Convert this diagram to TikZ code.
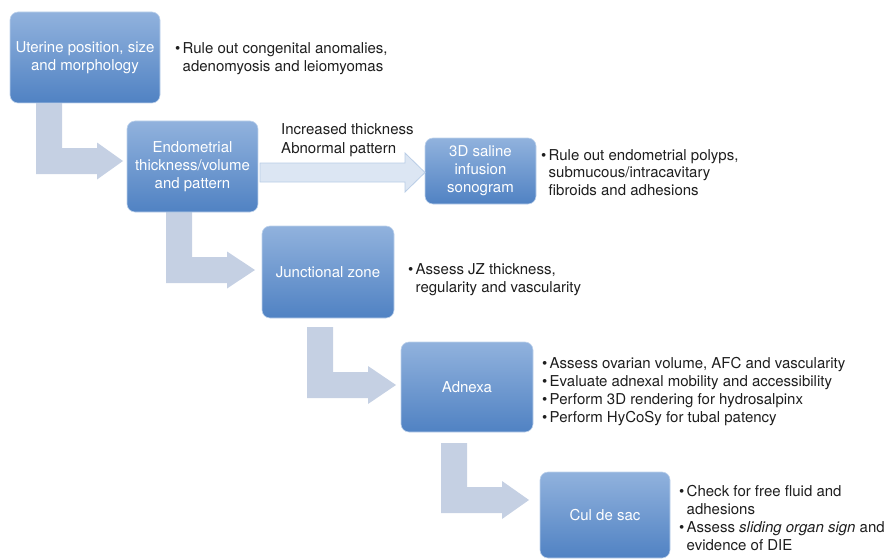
\documentclass[tikz,border=0pt]{standalone}
\usepackage{fontspec}
\setmainfont{TeX Gyre Heros}
\definecolor{boxtop}{RGB}{145,178,221}
\definecolor{boxbot}{RGB}{80,130,195}
\definecolor{boxedge}{RGB}{190,210,235}
\definecolor{bentfill}{RGB}{197,208,227}
\definecolor{strfill}{RGB}{220,230,243}
\definecolor{stredge}{RGB}{185,205,230}
\definecolor{txt}{RGB}{30,30,30}
\newcommand{\bul}{\makebox[7.5pt][l]{\textbullet}}
\newcommand{\ind}{\hspace*{7.5pt}}
\tikzset{
  box/.style={rounded corners=8pt, top color=boxtop, bottom color=boxbot, draw=boxedge,
    line width=0.6pt, text=white, align=center, inner sep=0pt,
    font=\fontsize{15}{18}\selectfont},
  bullets/.style={anchor=base west, inner sep=0pt, text=txt, font=\fontsize{15}{18}\selectfont},
  bent/.style={fill=bentfill, draw=none},
  straight/.style={fill=strfill, draw=stredge, line width=0.8pt, line join=miter}
}
\begin{document}
\begin{tikzpicture}[x=1pt,y=-1pt]
\useasboundingbox (0,0) rectangle (888,559);
% bent arrows (drawn first, boxes cover their starts)
\draw[bent] (36,103) -- (62,103) -- (62,148) -- (97,148) -- (97,142.5) -- (123,161) -- (97,179.5) -- (97,174) -- (36,174) -- cycle;
\draw[bent] (166,212) -- (192,212) -- (192,257) -- (227,257) -- (227,251.5) -- (255,270) -- (227,288.5) -- (227,283) -- (166,283) -- cycle;
\draw[bent] (307,327) -- (333,327) -- (333,372) -- (368,372) -- (368,366) -- (396,385) -- (368,404) -- (368,398) -- (307,398) -- cycle;
\draw[bent] (441,443) -- (467,443) -- (467,487) -- (502,487) -- (502,481) -- (529,500) -- (502,519) -- (502,513) -- (441,513) -- cycle;
% boxes
\node[box, minimum width=150pt, minimum height=91pt] (ut) at (85,57.5) {Uterine position, size\\and morphology};
\node[box, minimum width=131pt, minimum height=91pt] (en) at (192.5,166.5) {Endometrial\\thickness/volume\\and pattern};
\node[box, minimum width=111pt, minimum height=66pt] (sis) at (480.5,171) {3D saline\\infusion\\sonogram};
\node[box, minimum width=132pt, minimum height=92pt] (jz) at (328,272) {Junctional zone};
\node[box, minimum width=132pt, minimum height=90pt] (ad) at (467,387) {Adnexa};
\node[box, minimum width=130pt, minimum height=86pt] (cds) at (605,515) {Cul de sac};
% straight arrow from en to sis
\coordinate (tip) at (425,172.5);
\draw[straight] (260,163) -- (405,163) -- (405,153) -- (tip) -- (405,192) -- (405,182) -- (260,182) -- cycle;
\node[anchor=base west, inner sep=0pt, text=txt, font=\fontsize{15}{18}\selectfont] (lab) at (281,135)
  {\parbox[t]{160pt}{\raggedright Increased thickness\\Abnormal pattern}};
% bullet texts
\node[bullets] (b1) at (175,54) {\parbox[t]{260pt}{\raggedright\bul Rule out congenital anomalies,\\\ind adenomyosis and leiomyomas}};
\node[bullets] (b2) at (541,160) {\parbox[t]{260pt}{\fontsize{15}{17.5}\selectfont\raggedright\bul Rule out endometrial polyps,\\\ind submucous/intracavitary\\\ind fibroids and adhesions}};
\node[bullets] (b3) at (408,274) {\parbox[t]{260pt}{\raggedright\bul Assess JZ thickness,\\\ind regularity and vascularity}};
\node[bullets] (b4) at (542,368) {\parbox[t]{340pt}{\raggedright\bul Assess ovarian volume, AFC and vascularity\\\bul Evaluate adnexal mobility and accessibility\\\bul Perform 3D rendering for hydrosalpinx\\\bul Perform HyCoSy for tubal patency}};
\node[bullets] (b5) at (679,496) {\parbox[t]{260pt}{\raggedright\bul Check for free fluid and\\\ind adhesions\\\bul Assess \textit{sliding organ sign} and\\\ind evidence of DIE}};
\end{tikzpicture}
\end{document}
